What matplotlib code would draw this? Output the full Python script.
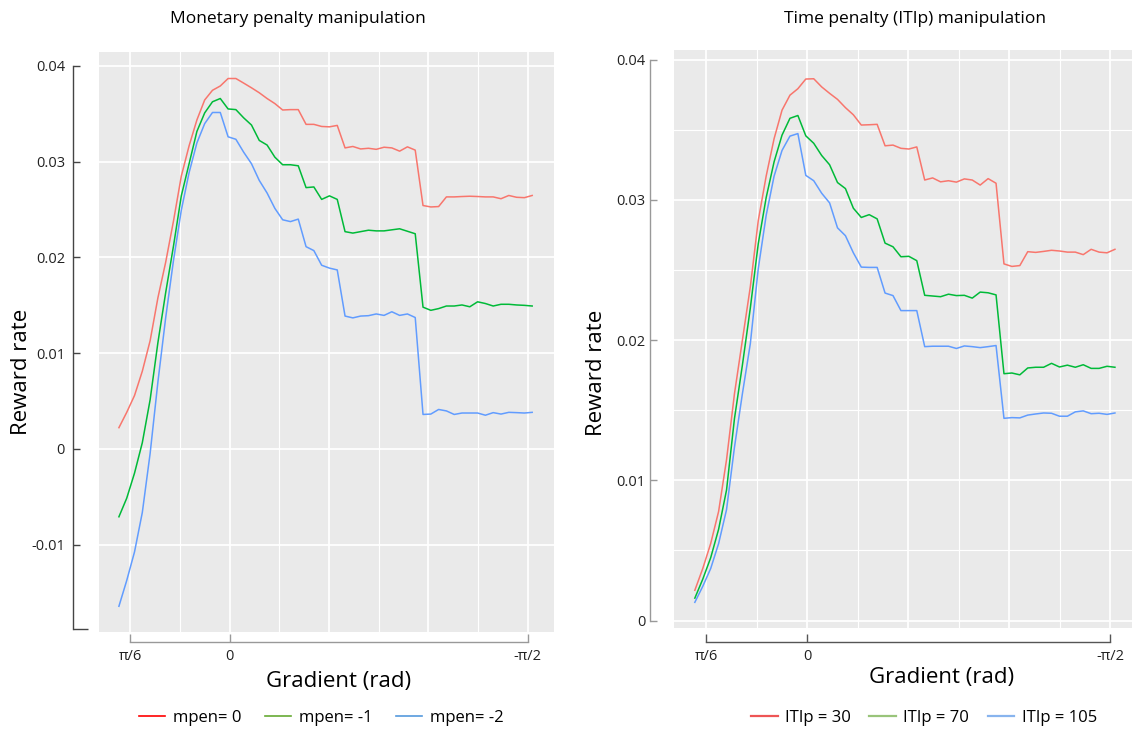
import numpy as np
import matplotlib
matplotlib.use("Agg")
import matplotlib.pyplot as plt
from matplotlib.lines import Line2D

plt.rcParams['font.family'] = ['Open Sans', 'DejaVu Sans']
plt.rcParams['axes.unicode_minus'] = False

# gradient grid (rad), same for both panels
gradient = np.linspace(0.584, -1.594, 54)

# monetary penalty manipulation
mpen_0 = [0.00221, 0.00381, 0.00557, 0.00811, 0.01129, 0.01578, 0.01951, 0.02381, 0.02849, 0.03166,
          0.03436, 0.03645, 0.03746, 0.03791, 0.03869, 0.03869, 0.03821, 0.03772, 0.03720, 0.03660,
          0.03607, 0.03540, 0.03544, 0.03544, 0.03390, 0.03390, 0.03368, 0.03364, 0.03379, 0.03144,
          0.03159, 0.03133, 0.03140, 0.03129, 0.03151, 0.03144, 0.03110, 0.03155, 0.03121, 0.02542,
          0.02527, 0.02531, 0.02632, 0.02632, 0.02636, 0.02639, 0.02636, 0.02632, 0.02632, 0.02613,
          0.02647, 0.02628, 0.02624, 0.02647]
mpen_1 = [-0.00710, -0.00516, -0.00254, 0.00064, 0.00512, 0.01110, 0.01634, 0.02120, 0.02643, 0.02979,
          0.03316, 0.03510, 0.03626, 0.03660, 0.03551, 0.03544, 0.03458, 0.03383, 0.03222, 0.03174,
          0.03047, 0.02968, 0.02968, 0.02957, 0.02729, 0.02736, 0.02606, 0.02643, 0.02606, 0.02269,
          0.02254, 0.02269, 0.02284, 0.02277, 0.02277, 0.02288, 0.02299, 0.02273, 0.02247, 0.01480,
          0.01447, 0.01465, 0.01492, 0.01492, 0.01503, 0.01484, 0.01536, 0.01518, 0.01492, 0.01510,
          0.01510, 0.01503, 0.01499, 0.01492]
mpen_2 = [-0.01645, -0.01376, -0.01077, -0.00665, -0.00049, 0.00699, 0.01372, 0.01970, 0.02493, 0.02886,
          0.03196, 0.03398, 0.03514, 0.03514, 0.03260, 0.03234, 0.03099, 0.02979, 0.02804, 0.02673,
          0.02512, 0.02393, 0.02374, 0.02400, 0.02112, 0.02071, 0.01918, 0.01888, 0.01869, 0.01387,
          0.01368, 0.01387, 0.01391, 0.01409, 0.01394, 0.01432, 0.01394, 0.01409, 0.01372, 0.00359,
          0.00363, 0.00411, 0.00396, 0.00359, 0.00374, 0.00374, 0.00374, 0.00351, 0.00378, 0.00363,
          0.00381, 0.00378, 0.00374, 0.00381]

# time penalty (ITIp) manipulation
itip_30 = [0.00216, 0.00371, 0.00549, 0.00778, 0.01147, 0.01617, 0.01999, 0.02380, 0.02851, 0.03169,
           0.03436, 0.03639, 0.03746, 0.03792, 0.03861, 0.03863, 0.03805, 0.03759, 0.03716, 0.03657,
           0.03606, 0.03533, 0.03535, 0.03538, 0.03385, 0.03390, 0.03367, 0.03362, 0.03377, 0.03141,
           0.03156, 0.03128, 0.03136, 0.03126, 0.03149, 0.03141, 0.03105, 0.03151, 0.03118, 0.02543,
           0.02525, 0.02531, 0.02630, 0.02625, 0.02632, 0.02640, 0.02635, 0.02627, 0.02627, 0.02609,
           0.02647, 0.02627, 0.02622, 0.02647]
itip_70 = [0.00160, 0.00295, 0.00448, 0.00651, 0.00931, 0.01440, 0.01821, 0.02228, 0.02686, 0.03016,
           0.03271, 0.03461, 0.03581, 0.03601, 0.03456, 0.03403, 0.03316, 0.03250, 0.03123, 0.03080,
           0.02940, 0.02874, 0.02894, 0.02864, 0.02691, 0.02665, 0.02594, 0.02597, 0.02566, 0.02319,
           0.02314, 0.02309, 0.02327, 0.02317, 0.02319, 0.02299, 0.02342, 0.02337, 0.02322, 0.01760,
           0.01765, 0.01752, 0.01801, 0.01806, 0.01806, 0.01834, 0.01808, 0.01821, 0.01806, 0.01824,
           0.01798, 0.01798, 0.01813, 0.01806]
itip_105 = [0.00130, 0.00244, 0.00371, 0.00549, 0.00791, 0.01236, 0.01617, 0.01974, 0.02508, 0.02889,
            0.03169, 0.03352, 0.03454, 0.03472, 0.03174, 0.03136, 0.03047, 0.02978, 0.02800, 0.02744,
            0.02622, 0.02520, 0.02518, 0.02518, 0.02335, 0.02317, 0.02210, 0.02210, 0.02210, 0.01953,
            0.01956, 0.01956, 0.01956, 0.01940, 0.01958, 0.01953, 0.01946, 0.01953, 0.01961, 0.01442,
            0.01447, 0.01445, 0.01465, 0.01473, 0.01480, 0.01478, 0.01457, 0.01457, 0.01488, 0.01495,
            0.01475, 0.01478, 0.01470, 0.01480]

line_colors = ['#F8766D', '#00BA38', '#619CFF']
mpen_labels = ['mpen= 0', 'mpen= -1', 'mpen= -2']
itip_labels = ['ITIp = 30', 'ITIp = 70', 'ITIp = 105']
xtick_vals = [np.pi / 6, 0, -np.pi / 2]
xtick_labels = ['\u03c0/6', '0', '-\u03c0/2']

W, H = 1132, 733
fig = plt.figure(figsize=(W / 100, H / 100), dpi=100)


def px_rect(x0, y0, x1, y1):
    return [x0 / W, 1 - y1 / H, (x1 - x0) / W, (y1 - y0) / H]


def style_axes(ax, xlim, ylim, yticks, ytick_labels, ybounds, minor_h, yspine_col, xspine_col,
               yoff, xoff, ypad):
    ax.set_facecolor('#EAEAEA')
    ax.set_xlim(*xlim)
    ax.set_ylim(*ylim)
    for s in ['top', 'right']:
        ax.spines[s].set_visible(False)
    ax.spines['left'].set_position(('outward', yoff))
    ax.spines['bottom'].set_position(('outward', xoff))
    ax.spines['left'].set_bounds(*ybounds)
    ax.spines['bottom'].set_bounds(-np.pi / 2, np.pi / 6)
    ax.spines['left'].set_color(yspine_col)
    ax.spines['bottom'].set_color(xspine_col)
    ax.spines['left'].set_linewidth(1.0)
    ax.spines['bottom'].set_linewidth(1.0)

    ax.set_yticks(yticks)
    ax.set_yticklabels(ytick_labels)
    ax.set_yticks(list(ybounds), minor=True)
    ax.set_xticks(xtick_vals)
    ax.set_xticklabels(xtick_labels)
    ax.tick_params(axis='y', which='major', direction='in', length=5, width=1.0,
                   color=yspine_col, labelsize=10.5, pad=ypad, labelcolor='#222222')
    ax.tick_params(axis='y', which='minor', direction='in', length=11, width=1.0, color=yspine_col)
    ax.tick_params(axis='x', which='major', direction='in', length=6, width=1.0,
                   color=xspine_col, labelsize=10.5, pad=5, labelcolor='#222222')

    # grid: every pi/12 vertically (thicker every pi/6), every 0.01 horizontally
    for k in range(-8, 4):
        ax.axvline(k * np.pi / 12, color='white', lw=1.3 if k % 2 == 0 else 0.8, zorder=0.5)
    for v in yticks:
        ax.axhline(v, color='white', lw=1.3, zorder=0.5)
    for v in minor_h:
        ax.axhline(v, color='white', lw=0.8, zorder=0.5)


# left panel
ax1 = fig.add_axes(px_rect(99, 52, 554, 632))
for ys, c in zip([mpen_0, mpen_1, mpen_2], line_colors):
    ax1.plot(gradient, ys, color=c, lw=1.1, zorder=2)
style_axes(ax1, (0.689, -1.709), (-0.01914, 0.04146),
           [-0.01, 0, 0.01, 0.02, 0.03, 0.04], ['-0.01', '0', '0.01', '0.02', '0.03', '0.04'],
           (-0.01883, 0.04), [], '#444444', '#999999', 19, 7, 5.5)

# right panel
ax2 = fig.add_axes(px_rect(674, 50, 1135, 628))
for ys, c in zip([itip_30, itip_70, itip_105], line_colors):
    ax2.plot(gradient, ys, color=c, lw=1.1, zorder=2)
style_axes(ax2, (0.692, -1.698), (-0.00053, 0.04068),
           [0, 0.01, 0.02, 0.03, 0.04], ['0', '0.01', '0.02', '0.03', '0.04'],
           (0, 0.04), [0.005, 0.015, 0.025, 0.035], '#999999', '#555555', 17, 10, 3.5)

# titles and axis labels
fig.text(298 / W, 1 - 19 / H, 'Monetary penalty manipulation', ha='center', va='center', fontsize=12.5)
fig.text(915 / W, 1 - 19 / H, 'Time penalty (ITIp) manipulation', ha='center', va='center', fontsize=12.5)
fig.text(22 / W, 1 - 372 / H, 'Reward rate', rotation=90, ha='center', va='center', fontsize=16)
fig.text(596 / W, 1 - 373 / H, 'Reward rate', rotation=90, ha='center', va='center', fontsize=16)
fig.text(339 / W, 1 - 682 / H, 'Gradient (rad)', ha='center', va='center', fontsize=16)
fig.text(942 / W, 1 - 678 / H, 'Gradient (rad)', ha='center', va='center', fontsize=16)

# legends
left_handles = [Line2D([], [], color=c, lw=1.2) for c in ['#FF0000', '#66AA33', '#5599DD']]
right_handles = [Line2D([], [], color=c, lw=1.6) for c in ['#EE5555', '#99C47A', '#88B4EE']]
fig.legend(left_handles, mpen_labels, loc='center', bbox_to_anchor=(321 / W, 1 - 718 / H),
           ncol=3, frameon=False, fontsize=12, handlelength=1.6, handletextpad=0.45,
           columnspacing=1.4)
fig.legend(right_handles, itip_labels, loc='center', bbox_to_anchor=(924 / W, 1 - 718 / H),
           ncol=3, frameon=False, fontsize=12, handlelength=1.6, handletextpad=0.45,
           columnspacing=1.1)

fig.savefig('out.png', dpi=100)
